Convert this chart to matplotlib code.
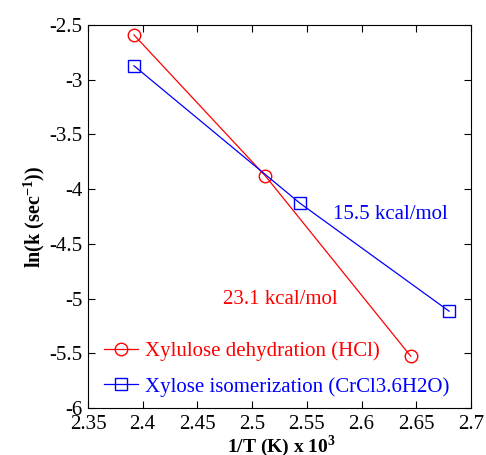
import matplotlib
matplotlib.use("Agg")
import matplotlib.pyplot as plt

# data
inv_t_dehyd = [2.392, 2.512, 2.645]
lnk_dehyd = [-2.59, -3.877, -5.526]
inv_t_isom = [2.392, 2.544, 2.680]
lnk_isom = [-2.872, -4.13, -5.114]

xticks = [2.35, 2.4, 2.45, 2.5, 2.55, 2.6, 2.65, 2.7]
yticks = [-6, -5.5, -5, -4.5, -4, -3.5, -3, -2.5]

plt.rcParams["font.family"] = ["Liberation Serif", "DejaVu Serif"]
plt.rcParams["mathtext.fontset"] = "custom"
plt.rcParams["mathtext.rm"] = "Liberation Serif"
plt.rcParams["mathtext.bf"] = "Liberation Serif:bold"

fig = plt.figure(figsize=(4.86, 4.55), dpi=100)
ax = fig.add_axes([0.181, 0.103, 0.788, 0.842])

ax.plot(inv_t_dehyd, lnk_dehyd, color="red", linewidth=0.9, marker="o",
        markersize=9, markerfacecolor="none", markeredgewidth=1.0,
        label="Xylulose dehydration (HCl)")
ax.plot(inv_t_isom, lnk_isom, color="blue", linewidth=0.9, marker="s",
        markersize=9, markerfacecolor="none", markeredgewidth=1.0,
        label="Xylose isomerization (CrCl3.6H2O)")

ax.text(2.574, -4.27, "15.5 kcal/mol", color="blue", fontsize=15)
ax.text(2.473, -5.05, "23.1 kcal/mol", color="red", fontsize=15)

ax.set_xlim(2.35, 2.7)
ax.set_ylim(-6, -2.5)
ax.set_xticks(xticks)
ax.set_xticklabels([f"{v:g}" for v in xticks])
ax.set_yticks(yticks)
ax.set_yticklabels([f"{v:g}" for v in yticks])
ax.tick_params(direction="in", top=True, right=True, length=5, width=0.8,
               labelsize=15)
ax.tick_params(axis="y", pad=4)
ax.tick_params(axis="x", pad=5)
for s in ax.spines.values():
    s.set_linewidth(0.8)

ax.set_xlabel(r"1/T (K) x 10$^\mathbf{3}$", fontsize=14, fontweight="bold", labelpad=0)
ax.xaxis.set_label_coords(0.504, -0.066, transform=ax.transAxes)
ax.xaxis.label.set_va("top")
ax.set_ylabel(r"ln(k (sec$^\mathbf{-1}$))", fontsize=14.5, fontweight="bold", labelpad=2)

ax.legend(loc="lower left", bbox_to_anchor=(0.013, 0.0), frameon=False,
          fontsize=15, labelcolor="linecolor", handlelength=1.6,
          handletextpad=0.35, labelspacing=0.75, borderaxespad=0.15,
          borderpad=0.4)

fig.savefig("out.png", dpi=100)
